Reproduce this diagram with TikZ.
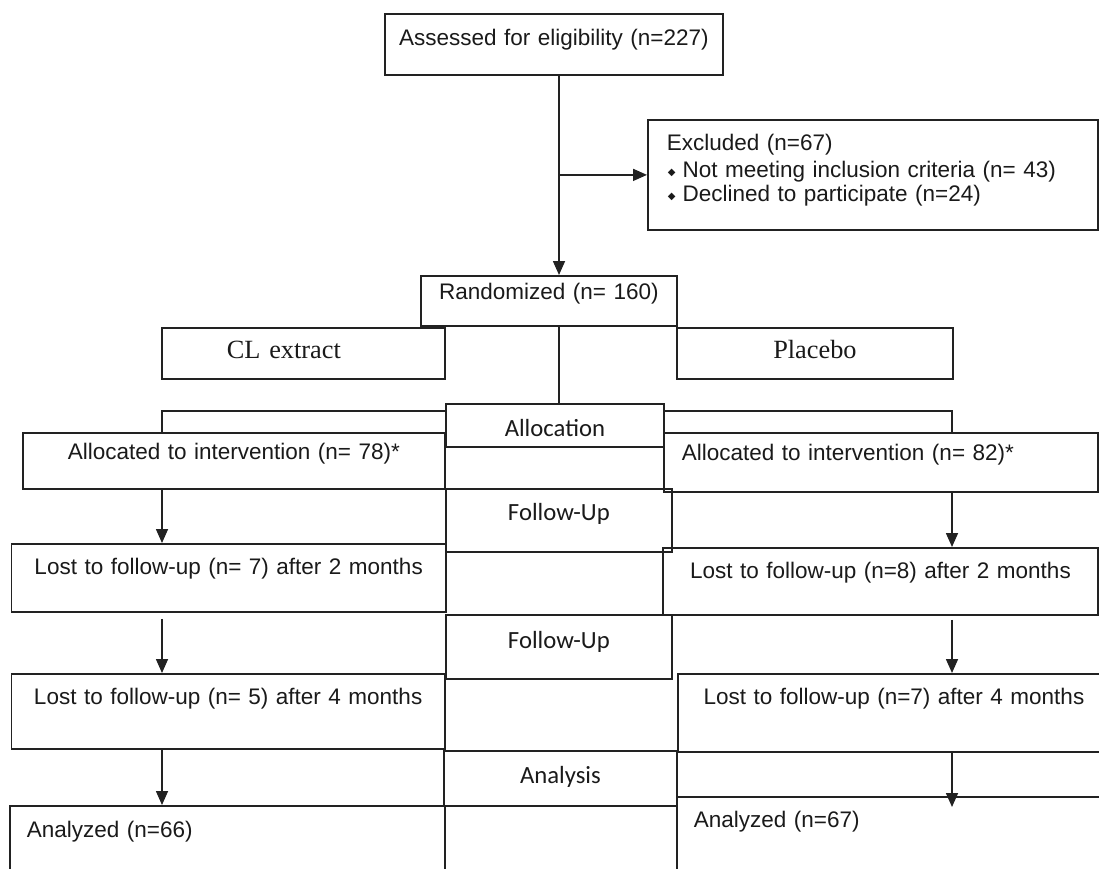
\documentclass[tikz,border=0pt]{standalone}
\usepackage{fontspec}
\setmainfont{Liberation Sans}
\newfontfamily\arialf{Liberation Sans}
\newfontfamily\timesf{Liberation Serif}
\newfontfamily\calf{Carlito}
\newfontfamily\djvf{DejaVu Sans}
\usetikzlibrary{arrows.meta}
\definecolor{lc}{HTML}{222222}
\definecolor{tc}{HTML}{1A1A1A}
\newcommand\myA{\arialf\fontsize{22.5}{24}\selectfont}
\newcommand\myT{\timesf\fontsize{26.3}{28}\selectfont}
\newcommand\myC{\calf\fontsize{24.7}{26}\selectfont}
\newcommand\mybul{\hspace*{1pt}{\djvf\fontsize{10}{10}\selectfont\raisebox{2pt}{◆}}\hspace{7pt}}
\begin{document}
\begin{tikzpicture}[x=1pt,y=-1pt,
  bx/.style={draw=lc, line width=1.8pt, inner sep=0pt, anchor=north west, font=\myA, align=center, text=tc},
  ln/.style={draw=lc, line width=1.6pt},
  arr/.style={ln, -{Triangle[length=14pt,width=12pt]}}]
\path[use as bounding box, clip] (0,0) rectangle (1099,869);
\fill[white] (0,0) rectangle (1099,869);

% boxes
\node[bx, text width=338pt, text height=32pt, text depth=29pt] (box1) at (384,13) {Assessed for eligibility (n=227)};
\node[bx, align=left, inner xsep=19pt, text width=412pt, text height=31pt, text depth=79pt] (excl) at (647,119)
  {Excluded (n=67)\\[3pt]\mybul Not meeting inclusion criteria (n= 43)\\\mybul Declined to participate (n=24)};
\node[bx, text width=256pt, text height=24pt, text depth=26pt] (rand) at (420,275) {Randomized (n= 160)};
\node[bx, font=\myT, align=left, text width=283pt, text height=31pt, text depth=20pt] (cl) at (161,327) {\hspace*{65pt}CL extract};
\node[bx, font=\myT, text width=276pt, text height=31pt, text depth=20pt] (plac) at (676,327) {Placebo};
\node[bx, font=\myC, text width=218pt, text height=33pt, text depth=10pt] (alloc) at (445,403) {Allocation};
\node[bx, text width=422pt, text height=27pt, text depth=29pt] (allocL) at (22,432) {Allocated to intervention (n= 78)*};
\node[bx, align=left, inner xsep=18pt, text width=398pt, text height=28pt, text depth=31pt] (allocR) at (663,432) {Allocated to intervention (n= 82)*};
\node[bx, font=\myC, text width=226pt, text height=32pt, text depth=31pt] (fu1) at (445,488) {Follow-Up};
\node[bx, text width=434.5pt, text height=31pt, text depth=37pt] (lost1L) at (10.5,543) {Lost to follow-up (n= 7) after 2 months};
\node[bx, text width=435pt, text height=31pt, text depth=36pt] (lost1R) at (662,547) {Lost to follow-up (n=8) after 2 months};
\node[bx, font=\myC, text width=226pt, text height=34pt, text depth=30pt] (fu2) at (445,614) {Follow-Up};
\node[bx, text width=433.5pt, text height=31pt, text depth=44pt] (lost2L) at (10.5,673) {Lost to follow-up (n= 5) after 4 months};
\node[bx, text width=432pt, text height=31pt, text depth=47pt] (lost2R) at (677,673) {Lost to follow-up (n=7) after 4 months};
\node[bx, font=\myC, text width=233pt, text height=33pt, text depth=22pt] (ana) at (443,750) {Analysis};
\node[bx, align=left, inner xsep=17pt, text width=401pt, text height=32pt, text depth=100pt] (anaL) at (9,805) {Analyzed (n=66)};
\node[bx, align=left, inner xsep=17pt, text width=410pt, text height=31pt, text depth=100pt] (anaR) at (676,796) {Analyzed (n=67)};

% reference columns for connectors
\coordinate (sp) at (559,0);
\coordinate (lcol) at (162,0);
\coordinate (rcol) at (952,0);

% connectors
\draw[arr] (sp |- box1.south) -- (sp |- rand.north);
\draw[arr] (sp |- excl.west) -- (excl.west);
\draw[ln] (sp |- rand.south) -- (sp |- alloc.north);
\draw[ln] ([yshift=-8pt]alloc.north west) -| (lcol |- allocL.north);
\draw[ln] ([yshift=-8pt]alloc.north east) -| (rcol |- allocR.north);
\draw[arr] (lcol |- allocL.south) -- (lcol |- lost1L.north);
\draw[arr, shorten <=6pt] (lcol |- lost1L.south) -- (lcol |- lost2L.north);
\draw[arr] (lcol |- lost2L.south) -- (lcol |- anaL.north);
\draw[arr] (rcol |- allocR.south) -- (rcol |- lost1R.north);
\draw[arr, shorten <=4pt] (rcol |- lost1R.south) -- (rcol |- lost2R.north);
\draw[arr, shorten >=-11pt] (rcol |- lost2R.south) -- (rcol |- anaR.north);
\end{tikzpicture}
\end{document}
